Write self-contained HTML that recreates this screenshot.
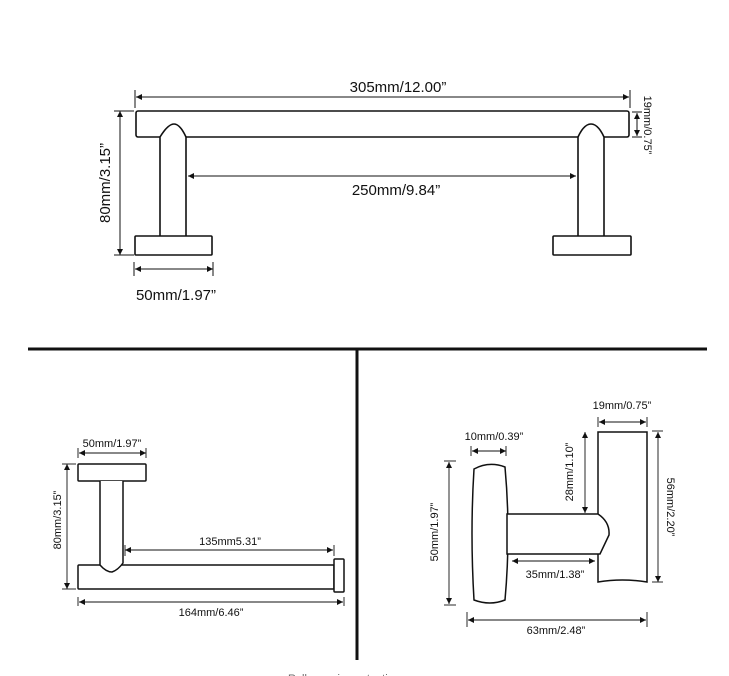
<!DOCTYPE html>
<html><head><meta charset="utf-8"><style>
html,body{margin:0;padding:0;background:#fff;width:729px;height:676px;overflow:hidden}
text{font-family:"Liberation Sans",Arial,sans-serif;fill:#111}
</style></head><body>
<svg width="729" height="676" viewBox="0 0 729 676" xmlns="http://www.w3.org/2000/svg">
<defs>
<marker id="a" viewBox="0 0 10 10" refX="10" refY="5" markerWidth="8" markerHeight="6" orient="auto-start-reverse" markerUnits="userSpaceOnUse"><path d="M0,0 L10,5 L0,10 z" fill="#111"/></marker>
</defs>
<g fill="#fff" stroke="#111" stroke-width="1.6">
<rect x="136" y="111" width="493" height="26" rx="2"/>
<path d="M160,236 L160,137 Q168,124 174,124 Q180,124 186,137 L186,236"/>
<path d="M578,236 L578,137 Q584,124 591,124 Q598,124 604,137 L604,236"/>
<rect x="135" y="236" width="77" height="19" rx="1"/>
<rect x="553" y="236" width="78" height="19" rx="1"/>
</g>
<g stroke="#111" stroke-width="1" fill="none">
<line x1="136" y1="97" x2="629" y2="97" marker-start="url(#a)" marker-end="url(#a)"/>
<line x1="135" y1="90" x2="135" y2="108"/><line x1="630" y1="90" x2="630" y2="108"/>
<line x1="188" y1="176" x2="576" y2="176" marker-start="url(#a)" marker-end="url(#a)"/>
<line x1="120" y1="111" x2="120" y2="255" marker-start="url(#a)" marker-end="url(#a)"/>
<line x1="114" y1="111" x2="134" y2="111"/><line x1="114" y1="255" x2="134" y2="255"/>
<line x1="135" y1="269" x2="213" y2="269" marker-start="url(#a)" marker-end="url(#a)"/>
<line x1="134" y1="262" x2="134" y2="276"/><line x1="213" y1="262" x2="213" y2="276"/>
<line x1="637" y1="113" x2="637" y2="136" marker-start="url(#a)" marker-end="url(#a)"/>
<line x1="632" y1="112" x2="642" y2="112"/><line x1="632" y1="137" x2="642" y2="137"/>
</g>
<text x="398" y="92" font-size="15" text-anchor="middle">305mm/12.00”</text>
<text x="396" y="195" font-size="15" text-anchor="middle">250mm/9.84”</text>
<text x="176" y="300" font-size="15" text-anchor="middle">50mm/1.97”</text>
<text transform="translate(110,183) rotate(-90)" font-size="15" text-anchor="middle">80mm/3.15”</text>
<text transform="translate(644,125) rotate(90)" font-size="11" text-anchor="middle">19mm/0.75”</text>

<line x1="28" y1="349" x2="707" y2="349" stroke="#111" stroke-width="3"/>
<line x1="357" y1="349" x2="357" y2="660" stroke="#111" stroke-width="3"/>

<g fill="#fff" stroke="#111" stroke-width="1.5">
<rect x="78" y="464" width="68" height="17" rx="1"/>
<rect x="78" y="565" width="256" height="24" rx="1"/>
<path d="M100,481 L100,565 Q106,572 112,572 Q118,570 123,563 L123,481"/>
<rect x="334" y="559" width="10" height="33" rx="1"/>
</g>
<g stroke="#111" stroke-width="0.9" fill="none">
<line x1="79" y1="453" x2="146" y2="453" marker-start="url(#a)" marker-end="url(#a)"/>
<line x1="78" y1="448" x2="78" y2="458"/><line x1="146" y1="448" x2="146" y2="458"/>
<line x1="67" y1="464" x2="67" y2="589" marker-start="url(#a)" marker-end="url(#a)"/>
<line x1="62" y1="464" x2="76" y2="464"/><line x1="62" y1="589" x2="76" y2="589"/>
<line x1="125" y1="550" x2="333" y2="550" marker-start="url(#a)" marker-end="url(#a)"/>
<line x1="125" y1="545" x2="125" y2="556"/><line x1="334" y1="545" x2="334" y2="556"/>
<line x1="79" y1="602" x2="343" y2="602" marker-start="url(#a)" marker-end="url(#a)"/>
<line x1="78" y1="597" x2="78" y2="606"/><line x1="344" y1="597" x2="344" y2="606"/>
</g>
<text x="112" y="447" font-size="11" text-anchor="middle">50mm/1.97”</text>
<text x="230" y="545" font-size="11" text-anchor="middle">135mm5.31”</text>
<text x="211" y="616" font-size="11" text-anchor="middle">164mm/6.46”</text>
<text transform="translate(61,520) rotate(-90)" font-size="11" text-anchor="middle">80mm/3.15”</text>

<g fill="#fff" stroke="#111" stroke-width="1.5">
<path d="M474,469 Q489,461 505,467 Q511,533 505,600 Q490,606 474,600 Q470,533 474,469 Z"/>
<path d="M598,432 L647,432 L647,582 Q622,578 598,582 Z"/>
<path d="M507,514 L598,514 Q610,522 609,535 L600,554 L507,554 Z"/>
</g>
<g stroke="#111" stroke-width="0.9" fill="none">
<line x1="599" y1="422" x2="646" y2="422" marker-start="url(#a)" marker-end="url(#a)"/>
<line x1="598" y1="417" x2="598" y2="427"/><line x1="647" y1="417" x2="647" y2="427"/>
<line x1="472" y1="451" x2="506" y2="451" marker-start="url(#a)" marker-end="url(#a)"/>
<line x1="471" y1="446" x2="471" y2="456"/><line x1="506" y1="446" x2="506" y2="456"/>
<line x1="585" y1="432" x2="585" y2="513" marker-start="url(#a)" marker-end="url(#a)"/>
<line x1="658" y1="432" x2="658" y2="582" marker-start="url(#a)" marker-end="url(#a)"/>
<line x1="652" y1="431" x2="663" y2="431"/><line x1="652" y1="582" x2="663" y2="582"/>
<line x1="449" y1="462" x2="449" y2="604" marker-start="url(#a)" marker-end="url(#a)"/>
<line x1="444" y1="461" x2="456" y2="461"/><line x1="444" y1="605" x2="456" y2="605"/>
<line x1="512" y1="561" x2="595" y2="561" marker-start="url(#a)" marker-end="url(#a)"/>
<line x1="468" y1="620" x2="646" y2="620" marker-start="url(#a)" marker-end="url(#a)"/>
<line x1="467" y1="612" x2="467" y2="627"/><line x1="647" y1="612" x2="647" y2="627"/>
</g>
<text x="622" y="409" font-size="11" text-anchor="middle">19mm/0.75”</text>
<text x="494" y="440" font-size="11" text-anchor="middle">10mm/0.39”</text>
<text transform="translate(573,472) rotate(-90)" font-size="11" text-anchor="middle">28mm/1.10”</text>
<text transform="translate(667,507) rotate(90)" font-size="11" text-anchor="middle">56mm/2.20”</text>
<text transform="translate(438,532) rotate(-90)" font-size="11" text-anchor="middle">50mm/1.97”</text>
<text x="555" y="578" font-size="11" text-anchor="middle">35mm/1.38”</text>
<text x="556" y="634" font-size="11" text-anchor="middle">63mm/2.48”</text>
<text x="288" y="682" font-size="11" style="fill:#666">Roll one piece at a time</text>
</svg>
</body></html>
